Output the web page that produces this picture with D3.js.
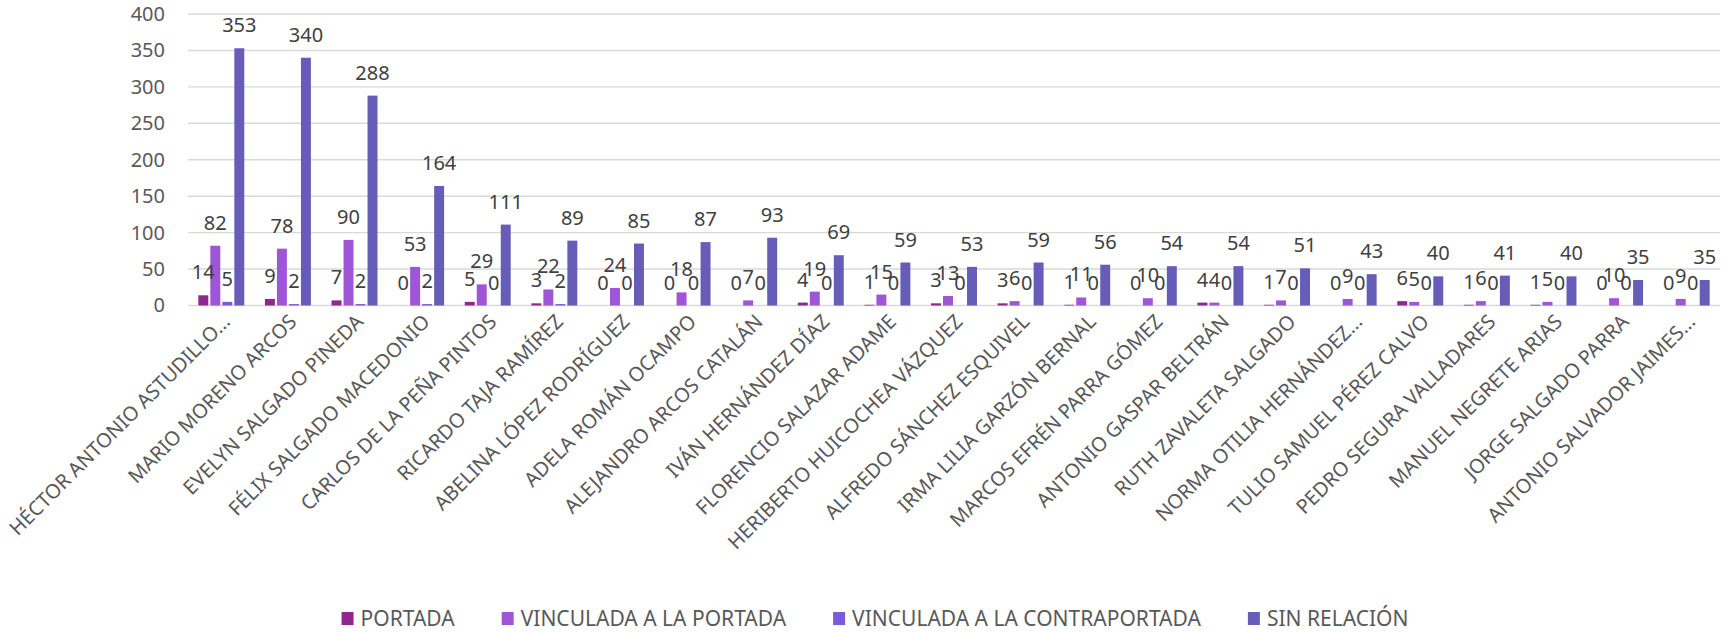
<html>
<head>
  <meta charset="utf-8">
  <title>Menciones por personaje</title>
  <script src="https://d3js.org/d3.v7.min.js"></script>
  <style>
    body { margin: 0; background: #fff; }
    text { font-family: "Noto Sans", sans-serif; }
  </style>
</head>
<body>
  <svg id="chart" width="1732" height="632"></svg>

  <script>
    // categories (as printed on the axis, truncated ones keep their "...")
    const names = [
      "HÉCTOR ANTONIO ASTUDILLO...", "MARIO MORENO ARCOS", "EVELYN SALGADO PINEDA",
      "FÉLIX SALGADO MACEDONIO", "CARLOS DE LA PEÑA PINTOS", "RICARDO TAJA RAMÍREZ",
      "ABELINA LÓPEZ RODRÍGUEZ", "ADELA ROMÁN OCAMPO", "ALEJANDRO ARCOS CATALÁN",
      "IVÁN HERNÁNDEZ DÍAZ", "FLORENCIO SALAZAR ADAME", "HERIBERTO HUICOCHEA VÁZQUEZ",
      "ALFREDO SÁNCHEZ ESQUIVEL", "IRMA LILIA GARZÓN BERNAL", "MARCOS EFRÉN PARRA GÓMEZ",
      "ANTONIO GASPAR BELTRÁN", "RUTH ZAVALETA SALGADO", "NORMA OTILIA HERNÁNDEZ...",
      "TULIO SAMUEL PÉREZ CALVO", "PEDRO SEGURA VALLADARES", "MANUEL NEGRETE ARIAS",
      "JORGE SALGADO PARRA", "ANTONIO SALVADOR JAIMES..."
    ];

    const series = ["PORTADA", "VINCULADA A LA PORTADA", "VINCULADA A LA CONTRAPORTADA", "SIN RELACIÓN"];

    const portada       = [14, 9, 7, 0, 5, 3, 0, 0, 0, 4, 1, 3, 3, 1, 0, 4, 1, 0, 6, 1, 1, 0, 0];
    const vincPortada   = [82, 78, 90, 53, 29, 22, 24, 18, 7, 19, 15, 13, 6, 11, 10, 4, 7, 9, 5, 6, 5, 10, 9];
    const vincContra    = [5, 2, 2, 2, 0, 2, 0, 0, 0, 0, 0, 0, 0, 0, 0, 0, 0, 0, 0, 0, 0, 0, 0];
    const sinRelacion   = [353, 340, 288, 164, 111, 89, 85, 87, 93, 69, 59, 53, 59, 56, 54, 54, 51, 43, 40, 41, 40, 35, 35];

    const yTicks = [0, 50, 100, 150, 200, 250, 300, 350, 400];

    const colors = ["#8f278f", "#9e55d6", "#7a5bda", "#675db8"];

    const table = names.map((n, i) => ({
      name: n,
      values: [portada[i], vincPortada[i], vincContra[i], sinRelacion[i]]
    }));

    const svg = d3.select("#chart");

    const plotLeft = 188, plotRight = 1720, plotTop = 14, plotBottom = 305.5;

    const x0 = d3.scaleBand()
      .domain(names)
      .range([plotLeft, plotRight])
      .paddingInner(0.31)
      .paddingOuter(0.155);

    const x1 = d3.scaleBand()
      .domain(series)
      .range([0, x0.bandwidth()])
      .paddingInner(0.17);

    const y = d3.scaleLinear()
      .domain([0, 400])
      .range([plotBottom, plotTop]);

    // gridlines
    svg.append("g")
      .selectAll("line")
      .data(yTicks)
      .enter()
      .append("line")
      .attr("x1", plotLeft)
      .attr("x2", plotRight)
      .attr("y1", d => y(d))
      .attr("y2", d => y(d))
      .attr("stroke", "#d9d9d9")
      .attr("stroke-width", 1.4);

    // y axis labels
    const yAxis = svg.append("g")
      .attr("transform", `translate(${plotLeft - 23},0)`)
      .call(d3.axisLeft(y).tickValues(yTicks).tickSize(0).tickPadding(0));
    yAxis.select(".domain").remove();
    yAxis.selectAll("text")
      .attr("font-family", "Noto Sans")
      .attr("font-size", 20)
      .attr("fill", "#595959");

    // bars
    const groups = svg.append("g")
      .selectAll("g")
      .data(table)
      .enter()
      .append("g")
      .attr("transform", d => `translate(${x0(d.name)},0)`);

    groups.selectAll("rect")
      .data(d => d.values.map((v, i) => ({ key: series[i], v: v, i: i })))
      .enter()
      .append("rect")
      .attr("x", d => x1(d.key))
      .attr("y", d => y(d.v))
      .attr("width", x1.bandwidth())
      .attr("height", d => y(0) - y(d.v))
      .attr("fill", d => colors[d.i]);

    // data labels
    groups.selectAll("text")
      .data(d => d.values.map((v, i) => ({ key: series[i], v: v })))
      .enter()
      .append("text")
      .attr("x", d => x1(d.key) + x1.bandwidth() / 2)
      .attr("y", d => y(d.v) - 16)
      .attr("text-anchor", "middle")
      .attr("font-size", 20)
      .attr("fill", "#404040")
      .text(d => d.v);

    // category labels
    svg.append("g")
      .selectAll("text")
      .data(names)
      .enter()
      .append("text")
      .attr("transform", d => `translate(${x0(d) + x0.bandwidth() / 2 + 5},318) rotate(-45)`)
      .attr("text-anchor", "end")
      .attr("dy", "0.35em")
      .attr("font-size", 20)
      .attr("fill", "#595959")
      .text(d => d);

    // legend
    const legend = svg.append("g");
    const items = legend.selectAll("g")
      .data(series)
      .enter()
      .append("g");

    items.append("rect")
      .attr("width", 12)
      .attr("height", 13)
      .attr("y", -14)
      .attr("fill", (d, i) => colors[i]);

    items.append("text")
      .attr("x", 19)
      .attr("font-size", 21)
      .attr("fill", "#595959")
      .text(d => d);

    let pos = 0;
    items.each(function () {
      const w = this.querySelector("text").getComputedTextLength();
      d3.select(this).attr("transform", `translate(${pos},0)`);
      pos += 19 + w + 47;
    });
    const legendWidth = pos - 47;
    legend.attr("transform", `translate(${875 - legendWidth / 2},626)`);
  </script>
</body>
</html>
